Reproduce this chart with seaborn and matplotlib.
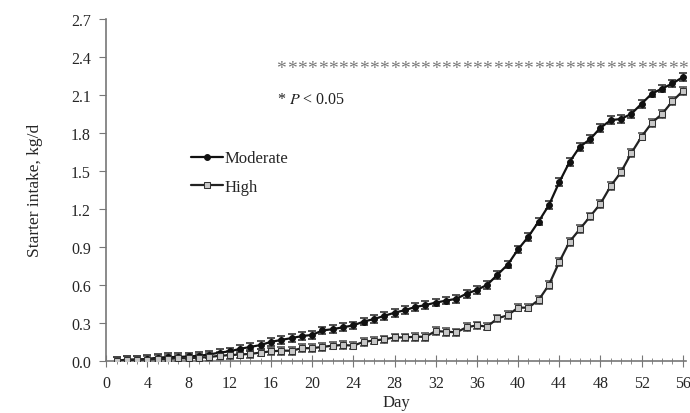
import numpy as np
import pandas as pd
import matplotlib
matplotlib.use("Agg")
import matplotlib.pyplot as plt
import seaborn as sns

# Day of trial
days = list(range(1, 57))

# Starter intake (kg/d)
moderate = [0.00, 0.01, 0.01, 0.015, 0.025, 0.03, 0.03, 0.035, 0.04, 0.05,
            0.065, 0.075, 0.095, 0.11, 0.125, 0.15, 0.165, 0.18, 0.195, 0.205,
            0.24, 0.25, 0.265, 0.28, 0.31, 0.33, 0.355, 0.38, 0.40, 0.425,
            0.44, 0.46, 0.475, 0.49, 0.53, 0.56, 0.60, 0.68, 0.76, 0.88,
            0.98, 1.10, 1.23, 1.41, 1.57, 1.69, 1.75, 1.84, 1.90, 1.91,
            1.95, 2.03, 2.11, 2.15, 2.19, 2.24]
high = [0.00, 0.005, 0.01, 0.01, 0.015, 0.015, 0.02, 0.02, 0.025, 0.03,
        0.04, 0.045, 0.05, 0.055, 0.065, 0.075, 0.08, 0.08, 0.10, 0.10,
        0.11, 0.12, 0.125, 0.12, 0.15, 0.16, 0.17, 0.185, 0.185, 0.19,
        0.19, 0.235, 0.23, 0.225, 0.265, 0.28, 0.27, 0.335, 0.36, 0.42,
        0.42, 0.48, 0.60, 0.78, 0.94, 1.04, 1.14, 1.24, 1.38, 1.49,
        1.64, 1.77, 1.88, 1.95, 2.05, 2.13]

# Standard errors (approximate, from the error bar caps)
se_moderate = [0.03, 0.03, 0.03, 0.03, 0.03, 0.03, 0.03, 0.03, 0.03, 0.03,
               0.03, 0.03, 0.03, 0.03, 0.03, 0.03, 0.03, 0.03, 0.03, 0.03,
               0.03, 0.03, 0.03, 0.03, 0.03, 0.03, 0.03, 0.03, 0.03, 0.03,
               0.03, 0.03, 0.03, 0.03, 0.03, 0.03, 0.03, 0.03, 0.03, 0.03,
               0.03, 0.03, 0.03, 0.03, 0.03, 0.03, 0.03, 0.03, 0.03, 0.03,
               0.03, 0.03, 0.03, 0.03, 0.03, 0.03]
se_high = [0.03, 0.03, 0.03, 0.03, 0.03, 0.03, 0.03, 0.03, 0.03, 0.03,
           0.03, 0.03, 0.03, 0.03, 0.03, 0.03, 0.03, 0.03, 0.03, 0.03,
           0.03, 0.03, 0.03, 0.03, 0.03, 0.03, 0.03, 0.03, 0.03, 0.03,
           0.03, 0.03, 0.03, 0.03, 0.03, 0.03, 0.03, 0.03, 0.03, 0.03,
           0.03, 0.03, 0.03, 0.03, 0.03, 0.03, 0.03, 0.03, 0.03, 0.03,
           0.03, 0.03, 0.03, 0.03, 0.03, 0.03]

# Days with significant difference (P < 0.05)
sig_days = list(range(17, 57))
sig_level = 2.31

x_ticks = list(range(0, 57, 4))
y_ticks = [0.0, 0.3, 0.6, 0.9, 1.2, 1.5, 1.8, 2.1, 2.4, 2.7]

sns.set_style("ticks")
plt.rcParams["font.family"] = ["Liberation Serif", "DejaVu Serif"]
plt.rcParams["mathtext.fontset"] = "stix"

df = pd.DataFrame({
    "Day": days * 2,
    "Intake": moderate + high,
    "Group": ["Moderate"] * len(days) + ["High"] * len(days),
})

fig = plt.figure(figsize=(6.9, 4.14), dpi=100)
ax = fig.add_axes([0.154, 0.126, 0.84, 0.826])

sns.lineplot(data=df, x="Day", y="Intake", hue="Group", style="Group",
             palette={"Moderate": "#111111", "High": "#222222"},
             markers={"Moderate": "o", "High": "s"}, dashes=False,
             linewidth=1.6, markersize=4.2, ax=ax, legend=False, zorder=3)

# style the markers
lines = ax.get_lines()
lines[0].set_markerfacecolor("#111111")
lines[0].set_markeredgecolor("#111111")
lines[1].set_markerfacecolor("#c8c8c8")
lines[1].set_markeredgecolor("#333333")
lines[1].set_markersize(4.2)

ax.errorbar(days, moderate, yerr=se_moderate, fmt="none", ecolor="#222222",
            elinewidth=1.0, capsize=3, capthick=1.1, zorder=2)
ax.errorbar(days, high, yerr=se_high, fmt="none", ecolor="#444444",
            elinewidth=1.0, capsize=3, capthick=1.1, zorder=2)

# significance stars
for d in sig_days:
    ax.text(d, sig_level, "*", ha="center", va="center", fontsize=14,
            color="#777777")
ax.text(16.6, 2.07, "* $P$ < 0.05", ha="left", va="center", fontsize=11.5,
        color="#222222")

# legend built from the plotted lines
handles = [lines[0], lines[1]]
leg = ax.legend(handles, ["Moderate", "High"], loc="upper left",
                bbox_to_anchor=(0.135, 0.635), frameon=False, fontsize=12,
                handlelength=1.9, handletextpad=0.1, labelspacing=0.75,
                borderaxespad=0)

ax.set_xlim(0, 56.3)
ax.set_ylim(0, 2.7)
ax.set_xticks(x_ticks)
ax.set_xticks(days, minor=True)
ax.set_yticks(y_ticks)
ax.set_yticklabels([f"{v:.1f}" for v in y_ticks])
ax.set_xlabel("Day", fontsize=12, labelpad=2)
ax.set_ylabel("Starter intake, kg/d", fontsize=12.5, labelpad=20)

for side in ["top", "right"]:
    ax.spines[side].set_visible(False)
for side in ["left", "bottom"]:
    ax.spines[side].set_color("#777777")
    ax.spines[side].set_linewidth(1.2)

ax.tick_params(axis="x", which="major", direction="inout", length=8,
               color="#777777", labelsize=11.5, pad=6)
ax.tick_params(axis="x", which="minor", direction="inout", length=4,
               color="#777777")
ax.tick_params(axis="y", direction="out", length=5, color="#777777",
               labelsize=11.5, pad=6)

fig.savefig("out.png", dpi=100)
